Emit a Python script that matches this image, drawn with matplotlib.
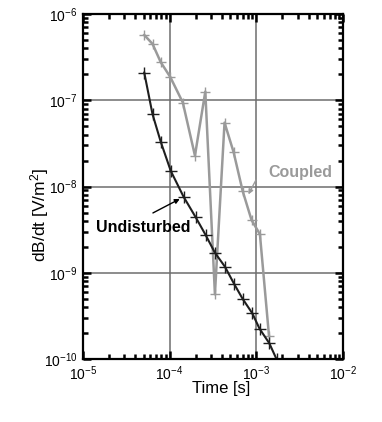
import matplotlib
matplotlib.use("Agg")
import matplotlib.pyplot as plt
from matplotlib.ticker import LogLocator, NullFormatter

plt.rcParams["font.family"] = ["Liberation Sans", "DejaVu Sans"]
plt.rcParams["mathtext.fontset"] = "custom"
plt.rcParams["mathtext.rm"] = "Liberation Sans"
plt.rcParams["mathtext.it"] = "Liberation Sans:italic"
plt.rcParams["mathtext.bf"] = "Liberation Sans:bold"

# Undisturbed response
t_undist = [5.1e-5, 6.35e-5, 7.9e-5, 1.03e-4, 1.45e-4, 2.0e-4, 2.6e-4, 3.33e-4,
            4.34e-4, 5.56e-4, 6.95e-4, 8.98e-4, 1.09e-3, 1.41e-3, 1.71e-3]
db_undist = [2.09e-7, 6.9e-8, 3.3e-8, 1.52e-8, 7.6e-9, 4.4e-9, 2.75e-9, 1.71e-9,
             1.18e-9, 7.4e-10, 5.0e-10, 3.4e-10, 2.25e-10, 1.53e-10, 1.0e-10]

# Coupled response
t_coupled = [5.1e-5, 6.35e-5, 7.9e-5, 1.02e-4, 1.42e-4, 1.96e-4, 2.58e-4, 3.33e-4,
             4.3e-4, 5.47e-4, 6.95e-4, 8.8e-4, 1.1e-3, 1.40e-3]
db_coupled = [5.7e-7, 4.5e-7, 2.76e-7, 1.85e-7, 9.4e-8, 2.28e-8, 1.26e-7, 5.65e-10,
              5.5e-8, 2.5e-8, 8.9e-9, 4.1e-9, 2.8e-9, 1.86e-10]

GRAY = "#9a9a9a"
DARK = "#1e1e1e"

fig = plt.figure(figsize=(3.82, 4.22), dpi=100)
ax = fig.add_axes([0.217, 0.149, 0.681, 0.818])

ax.plot(t_coupled, db_coupled, color=GRAY, lw=1.8, marker="+", ms=7.5, mew=1.0)
ax.plot(t_undist, db_undist, color=DARK, lw=1.5, marker="+", ms=8, mew=1.0)

ax.set_xscale("log")
ax.set_yscale("log")
ax.set_xlim(1e-5, 1e-2)
ax.set_ylim(1e-10, 1e-6)

ax.xaxis.set_major_locator(LogLocator(base=10, numticks=10))
ax.yaxis.set_major_locator(LogLocator(base=10, numticks=10))
ax.xaxis.set_minor_locator(LogLocator(base=10, subs=range(2, 10), numticks=20))
ax.yaxis.set_minor_locator(LogLocator(base=10, subs=range(2, 10), numticks=20))
ax.xaxis.set_minor_formatter(NullFormatter())
ax.yaxis.set_minor_formatter(NullFormatter())

ax.grid(True, which="major", color="#6e6e6e", lw=1.1)
ax.set_axisbelow(True)
ax.tick_params(which="both", direction="in", top=True, right=True,
               labelsize=10, colors="black", width=1.8)
ax.tick_params(which="major", length=6, pad=4)
ax.tick_params(which="minor", length=3.5)
for s in ax.spines.values():
    s.set_linewidth(1.6)

# axis titles placed by hand (the y title sits below the axes centre)
ax.xaxis.label.set_visible(False)
ax.yaxis.label.set_visible(False)
ax.text(0.531, -0.084, "Time [s]", transform=ax.transAxes, fontsize=12,
        ha="center", va="center")
ax.text(-0.165, 0.417, "dB/dt [V/m$^2$]", transform=ax.transAxes, fontsize=12.5,
        rotation=90, ha="center", va="center")

# Curve labels with pointer arrows
ax.text(3.18e-3, 1.44e-8, "Coupled", fontsize=11.5, fontweight="bold",
        color=GRAY, ha="center", va="center")
ax.annotate("", xy=(8.1e-4, 8.1e-9), xytext=(9.9e-4, 1.19e-8),
            arrowprops=dict(arrowstyle="-|>", color=GRAY, lw=1.0,
                            mutation_scale=7, shrinkA=0, shrinkB=0))
ax.text(4.99e-5, 3.31e-9, "Undisturbed", fontsize=11.5, fontweight="bold",
        color="black", ha="center", va="center")
ax.annotate("", xy=(1.31e-4, 7.18e-9), xytext=(6.42e-5, 4.94e-9),
            arrowprops=dict(arrowstyle="-|>", color="black", lw=1.0,
                            mutation_scale=7, shrinkA=0, shrinkB=0))

fig.savefig("out.png", dpi=100)
